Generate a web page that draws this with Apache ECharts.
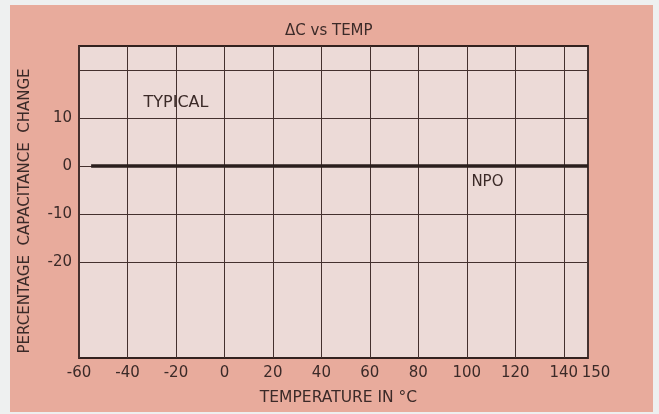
<!DOCTYPE html>
<html>
<head>
<meta charset="utf-8">
<script src="https://cdn.jsdelivr.net/npm/echarts@6/dist/echarts.min.js"></script>
<style>
html,body{margin:0;padding:0;background:#eef0f0;}
#chart{width:659px;height:414px;}
</style>
</head>
<body>
<div id="chart"></div>
<script>
// Data
const titleText = 'ΔC vs TEMP';
const xAxisName = 'TEMPERATURE IN °C';
const yAxisName = 'PERCENTAGE  CAPACITANCE  CHANGE';
const npoTemps = [-55, -40, -20, 0, 20, 40, 60, 80, 100, 120, 140, 150];
const npoChange = [0, 0, 0, 0, 0, 0, 0, 0, 0, 0, 0, 0];
const yTickLabels = [-20, -10, 0, 10];
const yGridValues = [20, 10, 0, -10, -20];
const annotations = [
  { text: 'TYPICAL', temp: -20, change: 13.1 },
  { text: 'NPO', temp: 108.5, change: -3.4 }
];

const ink = '#3b2a28';
const font = '"DejaVu Sans", "Liberation Sans", Arial, sans-serif';
const chart = echarts.init(document.getElementById('chart'), null, { renderer: 'canvas' });

chart.setOption({
  backgroundColor: '#eef0f0',
  animation: false,
  graphic: [{
    type: 'rect', z: -10, silent: true,
    shape: { x: 10, y: 5, width: 643, height: 407 },
    style: { fill: '#e8ab9c' }
  }],
  title: {
    text: titleText,
    left: 280, top: 19,
    textStyle: { color: ink, fontSize: 15, fontWeight: 'normal', fontFamily: font }
  },
  grid: {
    left: 79, right: 71, top: 46, bottom: 56,
    show: true, backgroundColor: '#ecdad7',
    borderColor: '#33221f', borderWidth: 1.8
  },
  xAxis: {
    type: 'value', min: -60, max: 150, interval: 20,
    name: xAxisName, nameLocation: 'middle', nameGap: 32,
    nameTextStyle: { color: ink, fontSize: 15.5, fontFamily: font, padding: [0, 0, 0, 10] },
    axisLine: { show: false }, axisTick: { show: false },
    axisLabel: {
      color: ink, fontSize: 15, fontFamily: font, margin: 8, showMaxLabel: true, showMinLabel: true,
      formatter: v => (v === 150 ? '{r|' + v + '}' : String(v)),
      rich: { r: { color: ink, fontSize: 15, fontFamily: font, padding: [0, 0, 0, 16] } }
    },
    splitLine: { show: true, lineStyle: { color: '#44302e', width: 1 } }
  },
  yAxis: {
    type: 'value', min: -40, max: 25,
    name: yAxisName, nameLocation: 'middle', nameGap: 46,
    nameTextStyle: { color: ink, fontSize: 15, fontFamily: font, padding: [0, 18, 0, 0] },
    axisLine: { show: false }, axisTick: { show: false },
    axisLabel: { color: ink, fontSize: 15, fontFamily: font, margin: 7, customValues: yTickLabels },
    splitLine: { show: false }
  },
  series: [{
    type: 'line',
    data: npoTemps.map((t, i) => [t, npoChange[i]]),
    symbol: 'none',
    lineStyle: { color: '#2a1e1d', width: 3.5 },
    z: 5,
    markLine: {
      silent: true, symbol: 'none', animation: false,
      label: { show: false },
      lineStyle: { color: '#44302e', width: 1, type: 'solid' },
      data: yGridValues.map(v => ({ yAxis: v }))
    },
    markPoint: {
      silent: true, symbol: 'rect', symbolSize: 0,
      label: { show: true, position: 'inside', color: ink, fontFamily: font,
               formatter: p => p.name },
      data: annotations.map((a, i) => ({
        name: a.text, coord: [a.temp, a.change],
        label: { fontSize: i === 0 ? 16 : 15 }
      }))
    }
  }]
});
</script>
</body>
</html>
